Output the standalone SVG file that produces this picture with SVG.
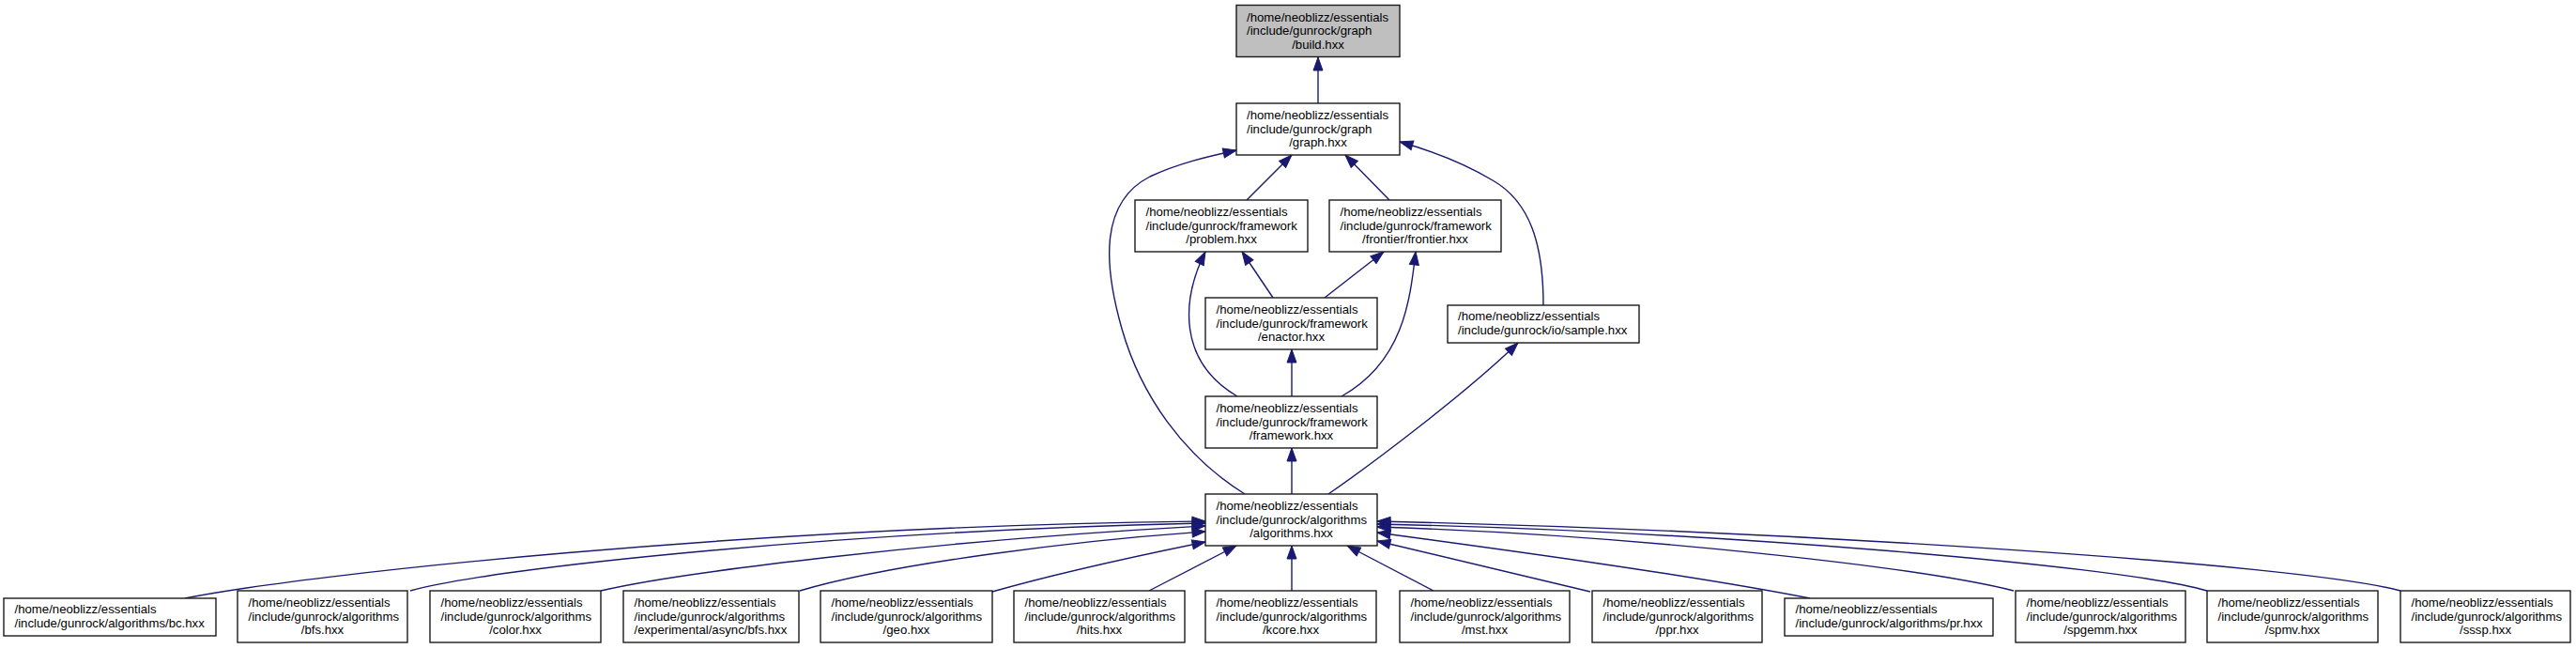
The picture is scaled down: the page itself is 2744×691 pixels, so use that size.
<svg xmlns="http://www.w3.org/2000/svg" width="2744" height="691" viewBox="0 0 2744 691">
<style>
.box{fill:#fff;stroke:#1a1a1a;stroke-width:1.4}
.sel{fill:#bfbfbf;stroke:#1a1a1a;stroke-width:1.4}
.t{font-family:"Liberation Sans",Arial,sans-serif;font-size:13.2px;fill:#000}
.c{text-anchor:middle}
.edge path{fill:none;stroke:#191970;stroke-width:1.4;marker-end:url(#arr)}
</style>
<defs>
<marker id="arr" markerUnits="userSpaceOnUse" markerWidth="16" markerHeight="12" viewBox="0 0 16 12" refX="15" refY="6" orient="auto">
<path d="M1,1 L15,6 L1,11 z" fill="#191970" stroke="#191970" stroke-width="1"/>
</marker>
</defs>
<rect width="2744" height="691" fill="#fff"/>
<g id="connectors" class="edge">
<path d="M1404,110 L1404,61"/>
<path d="M1328,213 L1376,165"/>
<path d="M1480,213 L1433,165"/>
<path d="M1326,526 C1260,485 1215,420 1195,350 C1175,280 1172,215 1225,188 C1255,174 1285,167 1317,160"/>
<path d="M1644,325 C1644,260 1630,215 1590,192 C1560,174 1530,162 1491,151"/>
<path d="M1356,317 L1323,268"/>
<path d="M1411,317 L1474,268"/>
<path d="M1318,422 C1255,385 1258,320 1284,268"/>
<path d="M1429,422 C1495,385 1502,320 1508,268"/>
<path d="M1376,422 L1376,372"/>
<path d="M1376,526 L1376,477"/>
<path d="M1415,526 C1460,495 1560,420 1617,365"/>
<path d="M197,637 C320,612 800,560 1284,555"/>
<path d="M437,629 C520,605 900,565 1284,557"/>
<path d="M640,629 C720,610 1000,575 1284,560"/>
<path d="M852,629 C950,600 1150,575 1284,566"/>
<path d="M1057,630 C1120,612 1220,590 1284,577"/>
<path d="M1224,629 L1317,581"/>
<path d="M1376,629 L1376,581"/>
<path d="M1527,629 L1435,581"/>
<path d="M1694,630 L1467,576"/>
<path d="M1928,637 C1800,612 1600,585 1467,567"/>
<path d="M2145,629 C2050,605 1750,570 1467,561"/>
<path d="M2351,629 C2250,600 1800,565 1467,558"/>
<path d="M2557,629 C2450,600 1900,565 1467,555"/>
</g>
<g id="n_build"><rect class="sel" x="1317" y="5.5" width="174" height="55"/><text class="t"><tspan x="1328" y="22.5">/home/neoblizz/essentials</tspan><tspan x="1328" y="37">/include/gunrock/graph</tspan><tspan class="c" x="1404" y="51.5">/build.hxx</tspan></text></g>
<g id="n_graph"><rect class="box" x="1317" y="110" width="174" height="55"/><text class="t"><tspan x="1328" y="127">/home/neoblizz/essentials</tspan><tspan x="1328" y="141.5">/include/gunrock/graph</tspan><tspan class="c" x="1404" y="156">/graph.hxx</tspan></text></g>
<g id="n_problem"><rect class="box" x="1209" y="213" width="184" height="55"/><text class="t"><tspan x="1220.5" y="230">/home/neoblizz/essentials</tspan><tspan x="1220.5" y="244.5">/include/gunrock/framework</tspan><tspan class="c" x="1301" y="259">/problem.hxx</tspan></text></g>
<g id="n_frontier"><rect class="box" x="1416" y="213" width="183" height="55"/><text class="t"><tspan x="1427.5" y="230">/home/neoblizz/essentials</tspan><tspan x="1427.5" y="244.5">/include/gunrock/framework</tspan><tspan class="c" x="1507.5" y="259">/frontier/frontier.hxx</tspan></text></g>
<g id="n_enactor"><rect class="box" x="1284" y="317" width="183" height="55"/><text class="t"><tspan x="1295.5" y="334">/home/neoblizz/essentials</tspan><tspan x="1295.5" y="348.5">/include/gunrock/framework</tspan><tspan class="c" x="1375.5" y="363">/enactor.hxx</tspan></text></g>
<g id="n_sample"><rect class="box" x="1542" y="325" width="204" height="40"/><text class="t"><tspan x="1553" y="341">/home/neoblizz/essentials</tspan><tspan x="1553" y="356">/include/gunrock/io/sample.hxx</tspan></text></g>
<g id="n_framework"><rect class="box" x="1284" y="422" width="183" height="55"/><text class="t"><tspan x="1295.5" y="439">/home/neoblizz/essentials</tspan><tspan x="1295.5" y="453.5">/include/gunrock/framework</tspan><tspan class="c" x="1375.5" y="468">/framework.hxx</tspan></text></g>
<g id="n_algorithms"><rect class="box" x="1284" y="526" width="183" height="55"/><text class="t"><tspan x="1295.5" y="543">/home/neoblizz/essentials</tspan><tspan x="1295.5" y="557.5">/include/gunrock/algorithms</tspan><tspan class="c" x="1375.5" y="572">/algorithms.hxx</tspan></text></g>
<g id="n_bc"><rect class="box" x="4" y="637" width="226" height="40"/><text class="t"><tspan x="15.5" y="653">/home/neoblizz/essentials</tspan><tspan x="15.5" y="668">/include/gunrock/algorithms/bc.hxx</tspan></text></g>
<g id="n_bfs"><rect class="box" x="253" y="629" width="181" height="55"/><text class="t"><tspan x="264.5" y="646">/home/neoblizz/essentials</tspan><tspan x="264.5" y="660.5">/include/gunrock/algorithms</tspan><tspan class="c" x="343.5" y="675">/bfs.hxx</tspan></text></g>
<g id="n_color"><rect class="box" x="458" y="629" width="182" height="55"/><text class="t"><tspan x="469.5" y="646">/home/neoblizz/essentials</tspan><tspan x="469.5" y="660.5">/include/gunrock/algorithms</tspan><tspan class="c" x="549" y="675">/color.hxx</tspan></text></g>
<g id="n_async_bfs"><rect class="box" x="664" y="629" width="187" height="55"/><text class="t"><tspan x="675.5" y="646">/home/neoblizz/essentials</tspan><tspan x="675.5" y="660.5">/include/gunrock/algorithms</tspan><tspan x="675.5" y="675">/experimental/async/bfs.hxx</tspan></text></g>
<g id="n_geo"><rect class="box" x="874" y="629" width="183" height="55"/><text class="t"><tspan x="885.5" y="646">/home/neoblizz/essentials</tspan><tspan x="885.5" y="660.5">/include/gunrock/algorithms</tspan><tspan class="c" x="965.5" y="675">/geo.hxx</tspan></text></g>
<g id="n_hits"><rect class="box" x="1080" y="629" width="182" height="55"/><text class="t"><tspan x="1091.5" y="646">/home/neoblizz/essentials</tspan><tspan x="1091.5" y="660.5">/include/gunrock/algorithms</tspan><tspan class="c" x="1171" y="675">/hits.hxx</tspan></text></g>
<g id="n_kcore"><rect class="box" x="1284" y="629" width="182" height="55"/><text class="t"><tspan x="1295.5" y="646">/home/neoblizz/essentials</tspan><tspan x="1295.5" y="660.5">/include/gunrock/algorithms</tspan><tspan class="c" x="1375" y="675">/kcore.hxx</tspan></text></g>
<g id="n_mst"><rect class="box" x="1491" y="629" width="181" height="55"/><text class="t"><tspan x="1502.5" y="646">/home/neoblizz/essentials</tspan><tspan x="1502.5" y="660.5">/include/gunrock/algorithms</tspan><tspan class="c" x="1581.5" y="675">/mst.hxx</tspan></text></g>
<g id="n_ppr"><rect class="box" x="1696" y="629" width="181" height="55"/><text class="t"><tspan x="1707.5" y="646">/home/neoblizz/essentials</tspan><tspan x="1707.5" y="660.5">/include/gunrock/algorithms</tspan><tspan class="c" x="1786.5" y="675">/ppr.hxx</tspan></text></g>
<g id="n_pr"><rect class="box" x="1901" y="637" width="222" height="40"/><text class="t"><tspan x="1912.5" y="653">/home/neoblizz/essentials</tspan><tspan x="1912.5" y="668">/include/gunrock/algorithms/pr.hxx</tspan></text></g>
<g id="n_spgemm"><rect class="box" x="2147" y="629" width="181" height="55"/><text class="t"><tspan x="2158.5" y="646">/home/neoblizz/essentials</tspan><tspan x="2158.5" y="660.5">/include/gunrock/algorithms</tspan><tspan class="c" x="2237.5" y="675">/spgemm.hxx</tspan></text></g>
<g id="n_spmv"><rect class="box" x="2351" y="629" width="182" height="55"/><text class="t"><tspan x="2362.5" y="646">/home/neoblizz/essentials</tspan><tspan x="2362.5" y="660.5">/include/gunrock/algorithms</tspan><tspan class="c" x="2442" y="675">/spmv.hxx</tspan></text></g>
<g id="n_sssp"><rect class="box" x="2557" y="629" width="181" height="55"/><text class="t"><tspan x="2568.5" y="646">/home/neoblizz/essentials</tspan><tspan x="2568.5" y="660.5">/include/gunrock/algorithms</tspan><tspan class="c" x="2647.5" y="675">/sssp.hxx</tspan></text></g>
</svg>
